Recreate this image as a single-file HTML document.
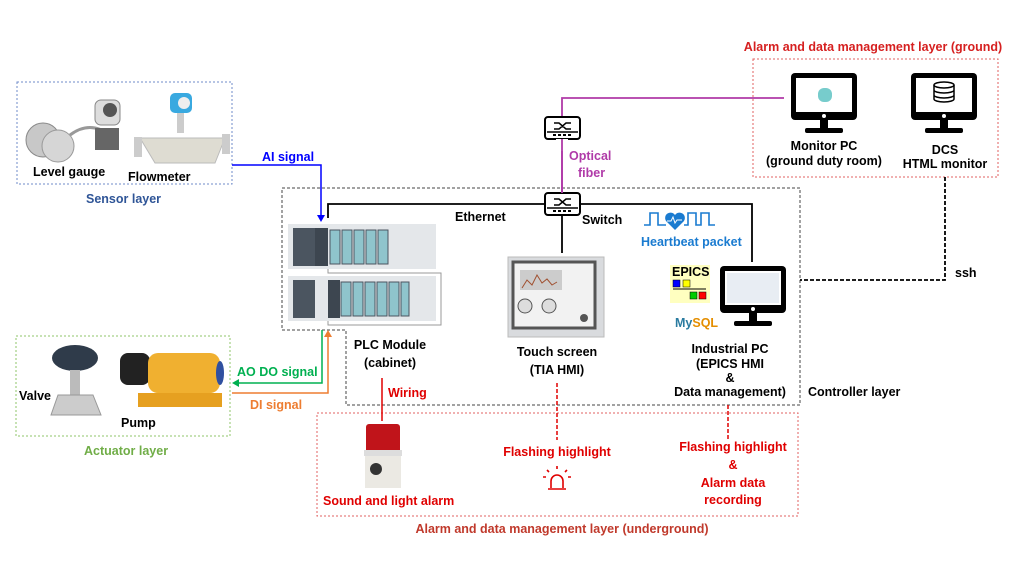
<!DOCTYPE html>
<html><head><meta charset="utf-8"><style>
html,body{margin:0;padding:0;background:#fff}
svg{display:block}
text{font-family:"Liberation Sans",sans-serif;font-weight:bold;font-size:12.5px}
</style></head><body>
<svg width="1016" height="572" viewBox="0 0 1016 572" xmlns="http://www.w3.org/2000/svg">
<defs>
<g id="sw"><rect x="0" y="0" width="35" height="22" rx="3" fill="#fff" stroke="#000" stroke-width="2"/><line x1="2" y1="15" x2="33" y2="15" stroke="#000" stroke-width="1.5"/><path d="M9 6 h5 l7 6 h5 M9 12 h5 l7 -6 h5" fill="none" stroke="#000" stroke-width="1.5"/><path d="M8 18h3M13 18h3M18 18h3M23 18h3" stroke="#000" stroke-width="2"/></g>
<g id="mon"><rect x="0" y="0" width="66" height="47" rx="4" fill="#000"/><rect x="5" y="5" width="56" height="34" fill="#fff"/><circle cx="33" cy="43" r="2" fill="#fff"/><rect x="29" y="47" width="8" height="8" fill="#000"/><rect x="14" y="55" width="38" height="5" rx="2" fill="#000"/></g>
</defs>

<!-- Sensor layer -->
<rect x="17" y="82" width="215" height="102" fill="none" stroke="#6f8bc9" stroke-dasharray="2,2"/>
<g>
<circle cx="43" cy="140" r="17" fill="#c8c8c8" stroke="#888"/><circle cx="58" cy="146" r="16" fill="#d6d6d6" stroke="#999"/>
<path d="M70 135 q20 -15 40 0" fill="none" stroke="#999" stroke-width="3"/>
<rect x="95" y="100" width="25" height="25" rx="6" fill="#ddd" stroke="#888"/><circle cx="110" cy="110" r="7" fill="#555"/>
<rect x="95" y="128" width="24" height="22" fill="#666"/>
<rect x="170" y="93" width="22" height="20" rx="5" fill="#39a9e0"/><circle cx="184" cy="103" r="6" fill="#eee"/>
<rect x="177" y="113" width="7" height="20" fill="#ccc"/>
<path d="M140 138 h85 l-10 25 h-60 z" fill="#dedcd2" stroke="#bbb"/>
<rect x="134" y="137" width="8" height="20" fill="#ccc"/><rect x="222" y="134" width="8" height="20" fill="#ccc"/>
</g>
<text x="33" y="176">Level gauge</text>
<text x="128" y="181">Flowmeter</text>
<text x="86" y="203" fill="#2f5597">Sensor layer</text>

<!-- AI signal -->
<polyline points="232,165 321,165 321,219" fill="none" stroke="#0000ff" stroke-width="1.5"/>
<path d="M317 215 l4 7 l4 -7z" fill="#0000ff"/>
<text x="262" y="161" fill="#0000ff">AI signal</text>

<!-- Controller box -->
<path d="M282 188 H800 V405 H346 V330 H282 Z" fill="none" stroke="#444" stroke-dasharray="3,2"/>
<text x="808" y="396" fill="#000">Controller layer</text>

<!-- Ethernet -->
<polyline points="328,218 328,204 545,204" fill="none" stroke="#000" stroke-width="1.8"/>
<polyline points="580,204 752,204 752,262" fill="none" stroke="#000" stroke-width="1.8"/>
<line x1="562" y1="215" x2="562" y2="253" stroke="#000" stroke-width="1.8"/>
<text x="455" y="221">Ethernet</text>
<text x="582" y="224">Switch</text>

<!-- Optical fiber -->
<polyline points="562,193 562,98 784,98" fill="none" stroke="#b03aa8" stroke-width="1.8"/>
<use href="#sw" x="545" y="117"/>
<use href="#sw" x="545" y="193"/>
<rect x="556" y="139" width="12" height="12" fill="#fff"/>
<line x1="562" y1="139" x2="562" y2="193" stroke="#b03aa8" stroke-width="1.8"/>
<text x="569" y="160" fill="#b03aa8">Optical</text>
<text x="578" y="177" fill="#b03aa8">fiber</text>

<!-- PLC -->
<g>
<rect x="288" y="224" width="148" height="45" fill="#e4e7ea"/>
<rect x="293" y="228" width="22" height="38" fill="#4b5560"/><rect x="315" y="228" width="13" height="38" fill="#3d4650"/>
<g fill="#8fc4cc" stroke="#4b5560"><rect x="330" y="230" width="10" height="34"/><rect x="342" y="230" width="10" height="34"/><rect x="354" y="230" width="10" height="34"/><rect x="366" y="230" width="10" height="34"/><rect x="378" y="230" width="10" height="34"/></g>
<rect x="288" y="276" width="148" height="45" fill="#e4e7ea"/>
<rect x="293" y="280" width="22" height="38" fill="#4b5560"/><rect x="328" y="280" width="12" height="38" fill="#3d4650"/>
<g fill="#8fc4cc" stroke="#4b5560"><rect x="341" y="282" width="10" height="34"/><rect x="353" y="282" width="10" height="34"/><rect x="365" y="282" width="10" height="34"/><rect x="377" y="282" width="10" height="34"/><rect x="389" y="282" width="10" height="34"/><rect x="401" y="282" width="8" height="34"/></g>
<polyline points="328,269 328,273 441,273 441,325 328,325 328,321" fill="none" stroke="#999" stroke-width="1"/>
</g>
<text x="390" y="349" text-anchor="middle">PLC Module</text>
<text x="390" y="367" text-anchor="middle">(cabinet)</text>

<!-- Touch screen -->
<rect x="508" y="257" width="96" height="80" fill="#d9dbde" stroke="#bbb"/>
<rect x="513" y="262" width="82" height="66" fill="#f2f2f2" stroke="#555" stroke-width="3"/>
<rect x="520" y="270" width="42" height="20" fill="#ccc"/><path d="M522 288 l5 -8 5 5 5 -10 5 8 5 -4 5 6 5 -3" fill="none" stroke="#a05030"/>
<circle cx="525" cy="306" r="7" fill="#ddd" stroke="#555"/><circle cx="549" cy="306" r="7" fill="#ddd" stroke="#555"/><circle cx="584" cy="318" r="4" fill="#555"/>
<text x="557" y="356" text-anchor="middle">Touch screen</text>
<text x="557" y="374" text-anchor="middle">(TIA HMI)</text>

<!-- Heartbeat -->
<path d="M644 225 h6 v-12 h8 v12 h8 M684 225 h4 v-12 h8 v12 h5 v-12 h8 v12 h6" fill="none" stroke="#1a7bd0" stroke-width="1.6"/>
<path d="M675 230 l-9 -9 a5 5 0 0 1 9 -6 a5 5 0 0 1 9 6 z" fill="#1a7bd0"/>
<path d="M667 221 h4 l2 -4 2 6 2 -3 h5" fill="none" stroke="#fff" stroke-width="1"/>
<text x="641" y="246" fill="#1a7bd0">Heartbeat packet</text>

<!-- EPICS + Industrial PC -->
<rect x="670" y="265" width="40" height="38" fill="#ffffc0"/>
<text x="672" y="276" font-size="9">EPICS</text>
<rect x="673" y="280" width="7" height="7" fill="#00f" stroke="#000" stroke-width=".5"/><rect x="683" y="280" width="7" height="7" fill="#ff0" stroke="#000" stroke-width=".5"/>
<line x1="673" y1="289" x2="706" y2="289" stroke="#000"/>
<rect x="690" y="292" width="7" height="7" fill="#0c0" stroke="#000" stroke-width=".5"/><rect x="699" y="292" width="7" height="7" fill="#f00" stroke="#000" stroke-width=".5"/>
<text x="675" y="327" font-size="8" fill="#2a7ba0" font-weight="normal">My<tspan fill="#e48e00">SQL</tspan></text>
<use href="#mon" x="720" y="266"/>
<rect x="727" y="273" width="52" height="30" fill="#e8edf3"/>
<text x="730" y="353" text-anchor="middle">Industrial PC</text>
<text x="730" y="368" text-anchor="middle">(EPICS HMI</text>
<text x="730" y="382" text-anchor="middle">&amp;</text>
<text x="730" y="396" text-anchor="middle">Data management)</text>

<!-- Ground layer -->
<text x="873" y="51" text-anchor="middle" fill="#d62020">Alarm and data management layer (ground)</text>
<rect x="753" y="59" width="245" height="118" fill="none" stroke="#e06060" stroke-dasharray="2,2"/>
<use href="#mon" x="791" y="73"/>
<rect x="818" y="88" width="14" height="14" rx="6" fill="#7cc"/>
<use href="#mon" x="911" y="73"/>
<ellipse cx="944" cy="85" rx="10" ry="3" fill="none" stroke="#000" stroke-width="1.5"/>
<path d="M934 85 v14 a10 3 0 0 0 20 0 v-14 M934 90 a10 3 0 0 0 20 0 M934 95 a10 3 0 0 0 20 0" fill="none" stroke="#000" stroke-width="1.5"/>
<text x="824" y="150" text-anchor="middle">Monitor PC</text>
<text x="824" y="165" text-anchor="middle">(ground duty room)</text>
<text x="945" y="154" text-anchor="middle">DCS</text>
<text x="945" y="168" text-anchor="middle">HTML monitor</text>

<!-- ssh -->
<polyline points="945,177 945,280 800,280" fill="none" stroke="#000" stroke-width="1.8" stroke-dasharray="4,2"/>
<text x="955" y="277" font-weight="normal">ssh</text>

<!-- Actuator layer -->
<rect x="16" y="336" width="214" height="100" fill="none" stroke="#8fc46a" stroke-dasharray="2,2"/>
<ellipse cx="75" cy="358" rx="23" ry="13" fill="#2f3b4a"/>
<rect x="70" y="370" width="10" height="25" fill="#bbb"/>
<path d="M58 395 h35 l8 20 h-50z" fill="#ccc" stroke="#999"/>
<rect x="120" y="353" width="30" height="32" rx="8" fill="#222"/>
<rect x="148" y="353" width="72" height="40" rx="10" fill="#f0b030"/>
<rect x="138" y="393" width="84" height="14" fill="#e6a020"/>
<ellipse cx="220" cy="373" rx="4" ry="12" fill="#3050a0"/>
<text x="19" y="400">Valve</text>
<text x="121" y="427">Pump</text>
<text x="84" y="455" fill="#70ad47">Actuator layer</text>

<!-- AO DO / DI -->
<polyline points="322,330 322,383 236,383" fill="none" stroke="#00b050" stroke-width="1.5"/>
<path d="M232 383 l7 -4 v8z" fill="#00b050"/>
<text x="237" y="376" fill="#00b050">AO DO signal</text>
<polyline points="232,393 328,393 328,335" fill="none" stroke="#ed7d31" stroke-width="1.5"/>
<path d="M328 330 l-4 7 h8z" fill="#ed7d31"/>
<text x="250" y="409" fill="#ed7d31">DI signal</text>

<!-- Underground -->
<rect x="317" y="413" width="481" height="103" fill="none" stroke="#e06060" stroke-dasharray="2,2"/>
<line x1="382" y1="378" x2="382" y2="421" stroke="#e00000" stroke-width="1.5"/>
<text x="388" y="397" fill="#e00000">Wiring</text>
<rect x="366" y="424" width="34" height="30" rx="3" fill="#c0141a"/>
<rect x="364" y="450" width="38" height="6" fill="#ddd"/>
<rect x="365" y="456" width="36" height="32" fill="#ebe9e3"/>
<circle cx="376" cy="469" r="6" fill="#333"/>
<text x="323" y="505" fill="#e00000">Sound and light alarm</text>
<line x1="557" y1="383" x2="557" y2="440" stroke="#e00000" stroke-width="1.5" stroke-dasharray="4,2"/>
<text x="557" y="456" text-anchor="middle" fill="#e00000">Flashing highlight</text>
<path d="M551 488 v-7 a6 6 0 0 1 12 0 v7 M548 489 h18 M557 466 v3 M547 470 l2 2 M567 470 l-2 2 M543 477 h3 M568 477 h3" fill="none" stroke="#e00000" stroke-width="1.6"/>
<line x1="728" y1="405" x2="728" y2="440" stroke="#e00000" stroke-width="1.5" stroke-dasharray="4,2"/>
<text x="733" y="451" text-anchor="middle" fill="#e00000">Flashing highlight</text>
<text x="733" y="469" text-anchor="middle" fill="#e00000">&amp;</text>
<text x="733" y="487" text-anchor="middle" fill="#e00000">Alarm data</text>
<text x="733" y="504" text-anchor="middle" fill="#e00000">recording</text>
<text x="562" y="533" text-anchor="middle" fill="#c0392b">Alarm and data management layer (underground)</text>
</svg>
</body></html>
